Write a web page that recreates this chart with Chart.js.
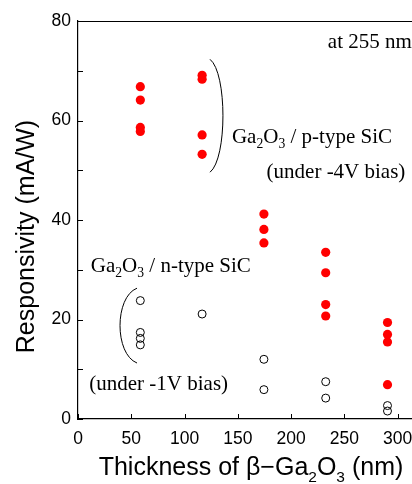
<!DOCTYPE html>
<html>
<head>
<meta charset="utf-8">
<script src="https://cdn.jsdelivr.net/npm/chart.js@4"></script>
<style>
  body { margin: 0; background: #fff; overflow: hidden; }
  #wrap { width: 412px; height: 484px; }
</style>
</head>
<body>
<div id="wrap"><canvas id="chart"></canvas></div>
<script>
// thickness (nm) and responsivity (mA/W)
const pTypeX = [58.5, 58.5, 58.5, 58.5, 116.5, 116.5, 116.5, 116.5, 174.5, 174.5, 174.5, 232.5, 232.5, 232.5, 232.5, 290.5, 290.5, 290.5, 290.5];
const pTypeY = [66.8, 64.1, 58.6, 57.8, 69.1, 68.3, 57.1, 53.2, 41.2, 38.1, 35.4, 33.5, 29.4, 23.0, 20.7, 19.4, 17.0, 15.5, 6.9];
const nTypeX = [58.5, 58.5, 58.5, 58.5, 116.5, 174.5, 174.5, 232.5, 232.5, 290.5, 290.5];
const nTypeY = [23.8, 17.4, 16.2, 14.9, 21.1, 12.0, 5.9, 7.5, 4.2, 2.7, 1.6];

const xTicks = [0, 50, 100, 150, 200, 250, 300];
const yTicks = [0, 10, 20, 30, 40, 50, 60, 70, 80];
const yLabelStep = 20;

const xTitle = [['Thickness of β−Ga', 0], ['2', 1], ['O', 0], ['3', 1], [' (nm)', 0]];
const yTitle = 'Responsivity (mA/W)';

// annotation texts, anchored in data units (left, baseline)
const notes = [
  { x: 234.5, y: 74.6, parts: [['at 255 nm', 0]] },
  { x: 144.5, y: 55.4, parts: [['Ga', 0], ['2', 1], ['O', 0], ['3', 1], [' / p-type SiC', 0]] },
  { x: 177, y: 48.4, parts: [['(under -4V bias)', 0]] },
  { x: 12, y: 29.6, parts: [['Ga', 0], ['2', 1], ['O', 0], ['3', 1], [' / n-type SiC', 0]] },
  { x: 10.6, y: 5.8, parts: [['(under -1V bias)', 0]] }
];
// brackets: x at ends, x of bulge control, y top, y bottom
const brackets = [
  { x: 123.9, cx: 140.1, top: 72.3, bottom: 49.6 },
  { x: 55.4, cx: 34.1, top: 26.3, bottom: 11.25 }
];

function toPoints(xs, ys) {
  return xs.map((x, i) => ({ x: x, y: ys[i] }));
}

function drawParts(ctx, parts, x, y, size, family, subScale, subShift) {
  let cx = x;
  parts.forEach(p => {
    const sub = p[1] === 1;
    ctx.font = (sub ? size * subScale : size) + 'px ' + family;
    ctx.fillText(p[0], cx, sub ? y + subShift : y);
    cx += ctx.measureText(p[0]).width;
  });
}

function partsWidth(ctx, parts, size, family, subScale) {
  let w = 0;
  parts.forEach(p => {
    ctx.font = (p[1] === 1 ? size * subScale : size) + 'px ' + family;
    w += ctx.measureText(p[0]).width;
  });
  return w;
}

const decorations = {
  id: 'decorations',
  afterDatasetsDraw(chart) {
    const ctx = chart.ctx;
    const xs = chart.scales.x;
    const ys = chart.scales.y;
    const area = chart.chartArea;
    ctx.save();
    ctx.strokeStyle = '#000';
    ctx.fillStyle = '#000';
    ctx.lineWidth = 1.2;

    // frame: top line
    ctx.beginPath();
    ctx.moveTo(area.left, area.top + 0.5);
    ctx.lineTo(area.right, area.top + 0.5);
    ctx.stroke();

    // inward tick marks
    ctx.lineWidth = 1;
    ys.ticks.forEach(t => {
      const py = Math.round(ys.getPixelForValue(t.value)) + 0.5;
      ctx.beginPath();
      ctx.moveTo(area.left, py);
      ctx.lineTo(area.left + 5, py);
      ctx.stroke();
    });
    xs.ticks.forEach(t => {
      const px = Math.round(xs.getPixelForValue(t.value)) + 0.5;
      ctx.beginPath();
      ctx.moveTo(px, area.bottom);
      ctx.lineTo(px, area.bottom - 5);
      ctx.stroke();
    });

    // brackets
    brackets.forEach(b => {
      const x0 = xs.getPixelForValue(b.x);
      const c = xs.getPixelForValue(b.cx);
      const y0 = ys.getPixelForValue(b.top);
      const y1 = ys.getPixelForValue(b.bottom);
      const h = y1 - y0;
      ctx.beginPath();
      ctx.moveTo(x0, y0);
      ctx.bezierCurveTo(c, y0 + h * 0.12, c, y1 - h * 0.12, x0, y1);
      ctx.stroke();
    });

    // annotation texts
    ctx.textAlign = 'left';
    ctx.textBaseline = 'alphabetic';
    notes.forEach(n => {
      drawParts(ctx, n.parts, xs.getPixelForValue(n.x), ys.getPixelForValue(n.y),
        21, '"Liberation Serif", "Times New Roman", serif', 0.65, 5);
    });

    // axis titles
    const sans = '"Liberation Sans", Arial, sans-serif';
    const w = partsWidth(ctx, xTitle, 25, sans, 0.62);
    drawParts(ctx, xTitle, 251 - w / 2, 475, 25, sans, 0.62, 7);

    ctx.translate(33.5, 236.5);
    ctx.rotate(-Math.PI / 2);
    ctx.textAlign = 'center';
    ctx.font = '25px ' + sans;
    ctx.fillText(yTitle, 0, 0);
    ctx.restore();
  }
};

new Chart(document.getElementById('chart'), {
  type: 'scatter',
  data: {
    datasets: [
      {
        label: 'p-type SiC',
        data: toPoints(pTypeX, pTypeY),
        backgroundColor: '#ff0000',
        borderWidth: 0,
        pointRadius: 4.6
      },
      {
        label: 'n-type SiC',
        data: toPoints(nTypeX, nTypeY),
        backgroundColor: 'rgba(0,0,0,0)',
        borderColor: '#000',
        borderWidth: 1,
        pointRadius: 4
      }
    ]
  },
  options: {
    responsive: true,
    maintainAspectRatio: false,
    animation: false,
    layout: { autoPadding: false, padding: { top: 21, left: 0, right: 0, bottom: 0 } },
    plugins: {
      legend: { display: false },
      tooltip: { enabled: false }
    },
    scales: {
      x: {
        type: 'linear',
        min: 0,
        max: 313.5,
        afterBuildTicks: s => { s.ticks = xTicks.map(v => ({ value: v })); },
        afterFit: s => { s.height = 65; s.paddingLeft = 0; s.paddingRight = 0; },
        grid: { display: false, drawTicks: false },
        border: { display: true, color: '#000', width: 1.2 },
        ticks: {
          padding: 10,
          color: '#000',
          maxRotation: 0,
          font: { family: '"Liberation Sans", Arial, sans-serif', size: 17.5 }
        }
      },
      y: {
        min: 0,
        max: 80,
        afterBuildTicks: s => { s.ticks = yTicks.map(v => ({ value: v })); },
        afterFit: s => { s.width = 78; s.paddingTop = 0; s.paddingBottom = 0; },
        grid: { display: false, drawTicks: false },
        border: { display: true, color: '#000', width: 1.2 },
        ticks: {
          padding: 7,
          color: '#000',
          callback: v => (v % yLabelStep === 0 ? v : ''),
          font: { family: '"Liberation Sans", Arial, sans-serif', size: 17.5 }
        }
      }
    }
  },
  plugins: [decorations]
});
</script>
</body>
</html>
